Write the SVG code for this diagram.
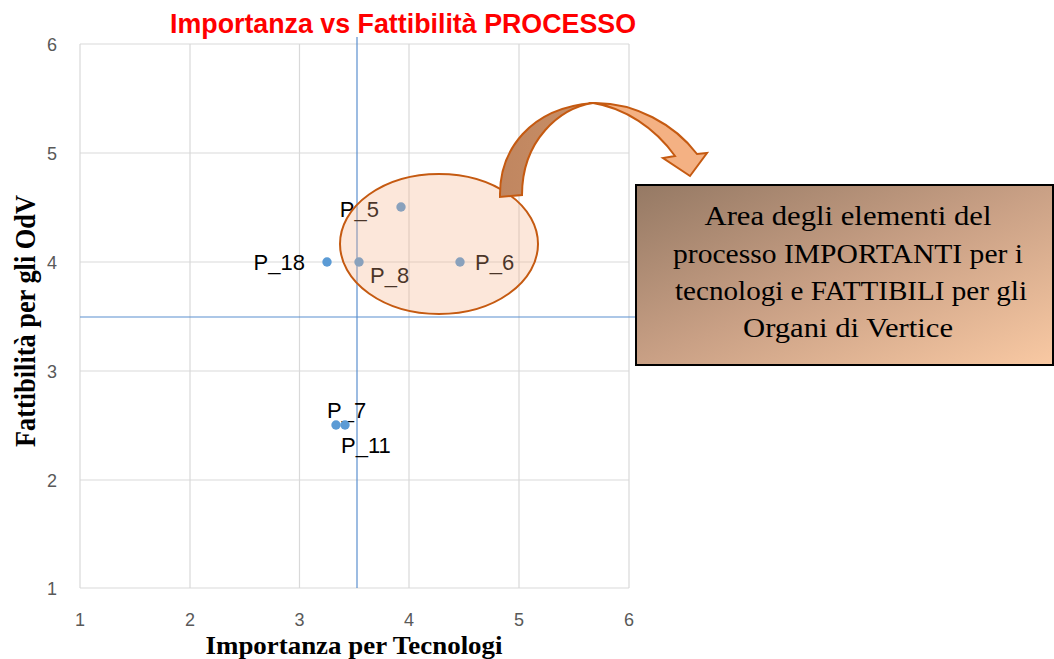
<svg xmlns="http://www.w3.org/2000/svg" width="1054" height="659" viewBox="0 0 1054 659">
<defs>
<linearGradient id="boxGrad" x1="0" y1="0" x2="1" y2="1">
<stop offset="0" stop-color="#957964"/>
<stop offset="0.5" stop-color="#c9a085"/>
<stop offset="1" stop-color="#f9c9a3"/>
</linearGradient>
<linearGradient id="backGrad" x1="0" y1="0" x2="1" y2="0">
<stop offset="0" stop-color="#c08660"/>
<stop offset="1" stop-color="#c98f66"/>
</linearGradient>
</defs>
<style>
.grid{stroke:#d9d9d9;stroke-width:1.2;fill:none}
.tick{font-family:"Liberation Sans",Arial,sans-serif;font-size:18px;fill:#595959}
.blue{stroke:#5b8fcf;stroke-width:1.2}
.pt{fill:#5b9bd5}
.lbl{font-family:"Liberation Sans",Arial,sans-serif;font-size:22px;fill:#000}
.axt{font-family:"Liberation Serif","Times New Roman",serif;font-size:29px;font-weight:bold;fill:#000}
.boxt{font-family:"Liberation Serif","Times New Roman",serif;font-size:28px;fill:#000;text-anchor:middle}
.arr{stroke:#c55a11;stroke-width:2;stroke-linejoin:miter}
</style>
<rect width="1054" height="659" fill="#ffffff"/>
<g id="chart">
<path class="grid" d="M80,44V588M190,44V588M299.5,44V588M409,44V588M519,44V588M629,44V588M80,44H629M80,153H629M80,262H629M80,371H629M80,480H629M80,588H629"/>
<g class="tick" text-anchor="end">
<text x="57" y="51">6</text><text x="57" y="160">5</text><text x="57" y="269">4</text><text x="57" y="378">3</text><text x="57" y="487">2</text><text x="57" y="595">1</text>
</g>
<g class="tick" text-anchor="middle">
<text x="80" y="626">1</text><text x="190" y="626">2</text><text x="299.5" y="626">3</text><text x="409" y="626">4</text><text x="519" y="626">5</text><text x="629" y="626">6</text>
</g>
<text x="403" y="33" text-anchor="middle" font-family="'Liberation Sans',Arial,sans-serif" font-size="27" font-weight="bold" fill="#ff0000" textLength="466" lengthAdjust="spacingAndGlyphs">Importanza vs Fattibilità PROCESSO</text>
<text x="354" y="654" text-anchor="middle" font-family="'Liberation Serif','Times New Roman',serif" font-size="25" font-weight="bold" textLength="297" lengthAdjust="spacingAndGlyphs">Importanza per Tecnologi</text>
<text class="axt" transform="translate(35,321) rotate(-90)" text-anchor="middle" textLength="252" lengthAdjust="spacingAndGlyphs">Fattibilità per gli OdV</text>
<line class="blue" x1="357" y1="37" x2="357" y2="588"/>
<line class="blue" x1="80" y1="317" x2="1054" y2="317"/>
</g>
<g id="points">
<g id="P_5"><circle class="pt" cx="401" cy="207" r="4.7"/><text class="lbl" x="379" y="217" text-anchor="end">P_5</text></g>
<g id="P_18"><circle class="pt" cx="327" cy="262" r="4.7"/><text class="lbl" x="305" y="270" text-anchor="end">P_18</text></g>
<g id="P_8"><circle class="pt" cx="359" cy="262" r="4.7"/><text class="lbl" x="370" y="283">P_8</text></g>
<g id="P_6"><circle class="pt" cx="460" cy="262" r="4.7"/><text class="lbl" x="475" y="270">P_6</text></g>
<g id="P_7"><circle class="pt" cx="336" cy="425" r="4.7"/><text class="lbl" x="327" y="418">P_7</text></g>
<g id="P_11"><circle class="pt" cx="345" cy="425" r="4.7"/><text class="lbl" x="341" y="453">P_11</text></g>
</g>
<g id="area">
<ellipse cx="439" cy="244" rx="99" ry="70" fill="#f4b183" fill-opacity="0.3" stroke="#c55a11" stroke-width="2"/>
</g>
<g id="connectors">
<path class="arr" fill="url(#backGrad)" d="M500,197 C499,150 530,108 593,103 C560,108 522,140 522,195 Z"/>
<path class="arr" fill="#f4b183" d="M593,103 C635,102 675,125 697,154 L707,153 L690,176 L663,158 L675,156 C655,128 625,108 593,103 Z"/>
</g>
<g id="box">
<rect x="636" y="185" width="417" height="180" fill="url(#boxGrad)" stroke="#000" stroke-width="2"/>
<text class="boxt" x="848" y="225" textLength="287" lengthAdjust="spacingAndGlyphs">Area degli elementi del</text>
<text class="boxt" x="848" y="263" textLength="350" lengthAdjust="spacingAndGlyphs">processo IMPORTANTI per i</text>
<text class="boxt" x="851" y="300" textLength="352" lengthAdjust="spacingAndGlyphs">tecnologi e FATTIBILI per gli</text>
<text class="boxt" x="848" y="337" textLength="210" lengthAdjust="spacingAndGlyphs">Organi di Vertice</text>
</g>
</svg>
